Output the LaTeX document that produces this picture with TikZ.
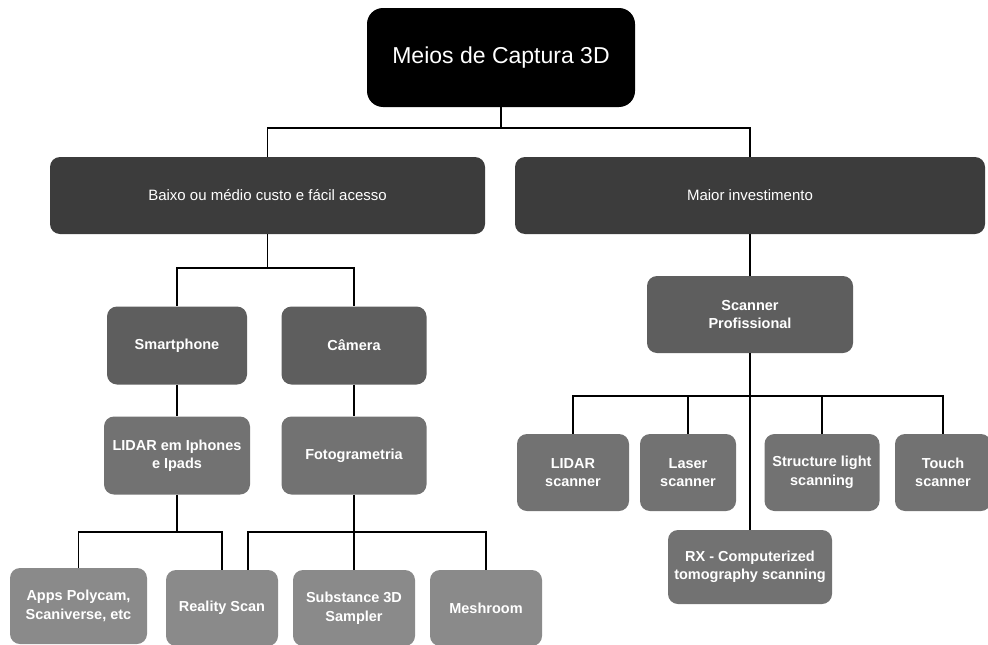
\documentclass[tikz,border=0pt]{standalone}
\usepackage{fontspec}
\setmainfont{Liberation Sans}
\definecolor{cRoot}{HTML}{000000}
\definecolor{cOne}{HTML}{3C3C3C}
\definecolor{cTwo}{HTML}{5E5E5E}
\definecolor{cThree}{HTML}{727272}
\definecolor{cFour}{HTML}{8A8A8A}
\begin{document}
\begin{tikzpicture}[x=1pt,y=-1pt,
  box/.style={rectangle, rounded corners=10pt, inner sep=0pt, text=white, align=center,
    font=\fontsize{14.5}{18.5}\selectfont\bfseries},
  link/.style={draw=black, line width=1.8pt}
]
\useasboundingbox (0,0) rectangle (988,645);
\fill[white] (0,0) rectangle (988,645);

\node[box, fill=cRoot, rounded corners=16pt, minimum width=268pt, minimum height=99pt,
  font=\fontsize{23}{27}\selectfont] (root) at (501,57.5) {Meios de Captura 3D};
\node[box, fill=cOne, minimum width=435pt, minimum height=77pt,
  font=\fontsize{15}{18}\selectfont] (baixo) at (267.5,195.5) {Baixo ou médio custo e fácil acesso};
\node[box, fill=cOne, minimum width=470pt, minimum height=77pt,
  font=\fontsize{15}{18}\selectfont] (maior) at (750,195.5) {Maior investimento};

\node[box, fill=cTwo, minimum width=140pt, minimum height=78pt] (smart) at (177,345.5) {Smartphone};
\node[box, fill=cTwo, minimum width=145pt, minimum height=78pt] (camera) at (354,345.5) {Câmera};
\node[box, fill=cThree, minimum width=146pt, minimum height=78pt] (lidarip) at (177,455.5) {LIDAR em Iphones\\e Ipads};
\node[box, fill=cThree, minimum width=145pt, minimum height=78pt] (foto) at (354,455.5) {Fotogrametria};

\node[box, fill=cFour, minimum width=137pt, minimum height=76pt] (apps) at (78.5,606) {Apps Polycam,\\Scaniverse, etc};
\node[box, fill=cFour, minimum width=112pt, minimum height=76pt] (reality) at (222,608) {Reality Scan};
\node[box, fill=cFour, minimum width=122pt, minimum height=76pt] (subst) at (354,608) {Substance 3D\\Sampler};
\node[box, fill=cFour, minimum width=112pt, minimum height=76pt] (mesh) at (486,608) {Meshroom};

\node[box, fill=cTwo, minimum width=206pt, minimum height=77pt] (scanprof) at (750,314.5) {Scanner\\Profissional};
\node[box, fill=cThree, minimum width=112pt, minimum height=77pt] (lidarsc) at (573,472.5) {LIDAR\\scanner};
\node[box, fill=cThree, minimum width=96pt, minimum height=77pt] (laser) at (688,472.5) {Laser\\scanner};
\node[box, fill=cThree, minimum width=115pt, minimum height=77pt] (struct) at (822,472.5) {Structure light\\scanning};
\node[box, fill=cThree, minimum width=96pt, minimum height=77pt] (touch) at (943,472.5) {Touch\\scanner};
\node[box, fill=cThree, minimum width=164pt, minimum height=74pt] (rx) at (750,567) {RX - Computerized\\tomography scanning};

\coordinate (j0) at (root.south |- 0,128);
\draw[link] (root.south) -- (j0) -| (baixo.north);
\draw[link] (j0) -| (maior.north);

\coordinate (j1) at (baixo.south |- 0,268);
\draw[link] (baixo.south) -- (j1) -| (smart.north);
\draw[link] (j1) -| (camera.north);
\draw[link] (smart.south) -- (lidarip.north);
\draw[link] (camera.south) -- (foto.north);

\coordinate (j2) at (lidarip.south |- 0,532);
\draw[link] (lidarip.south) -- (j2) -| (apps.north);
\draw[link] (j2) -| (reality.north);
\coordinate (j3) at (foto.south |- 0,532);
\draw[link] (foto.south) -- (j3) -| ([xshift=26pt]reality.north);
\draw[link] (j3) -- (subst.north);
\draw[link] (j3) -| (mesh.north);

\draw[link] (maior.south) -- (scanprof.north);
\coordinate (j4) at (scanprof.south |- 0,396);
\draw[link] (scanprof.south) -- (rx.north);
\draw[link] (j4) -| (lidarsc.north);
\draw[link] (j4) -| (laser.north);
\draw[link] (j4) -| (struct.north);
\draw[link] (j4) -| (touch.north);
\end{tikzpicture}
\end{document}
